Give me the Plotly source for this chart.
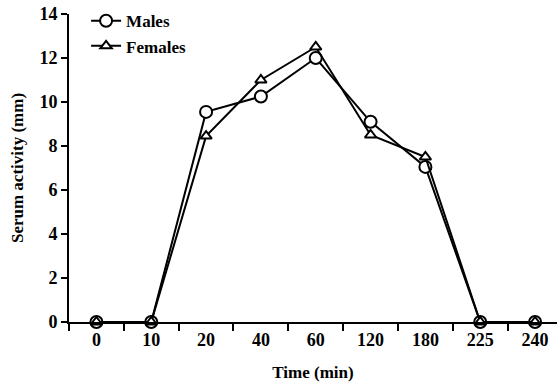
import plotly.graph_objects as go

times = ["0", "10", "20", "40", "60", "120", "180", "225", "240"]
males = [0, 0, 9.55, 10.25, 12.0, 9.1, 7.05, 0, 0]
females = [0, 0, 8.45, 11.0, 12.5, 8.5, 7.5, 0, 0]

FONT = "Liberation Serif"

fig = go.Figure()
fig.add_trace(go.Scatter(
    x=times, y=males, name="Males", mode="lines+markers",
    line=dict(color="black", width=2),
    marker=dict(symbol="circle", size=12, color="white", line=dict(color="black", width=2)),
    cliponaxis=False,
))
fig.add_trace(go.Scatter(
    x=times, y=females, name="Females", mode="lines+markers",
    line=dict(color="black", width=2),
    marker=dict(symbol="triangle-up", size=10, color="white", line=dict(color="black", width=2)),
    cliponaxis=False,
))

fig.update_layout(
    width=557, height=387,
    margin=dict(l=69, r=0, t=14, b=65),
    paper_bgcolor="white", plot_bgcolor="white",
    font=dict(family=FONT, size=17, color="black", weight="bold"),
    showlegend=True,
    legend=dict(x=0.035, y=1.035, xanchor="left", yanchor="top",
                bgcolor="rgba(0,0,0,0)", font=dict(size=17),
                tracegroupgap=0, itemwidth=30),
    xaxis=dict(
        type="category", categoryorder="array", categoryarray=times,
        range=[-0.5, 8.4], showgrid=False, zeroline=False,
        showline=True, linecolor="black", linewidth=2,
        ticks="outside", tickson="boundaries", ticklen=7, tickwidth=2, tickcolor="black",
        tickfont=dict(size=18),
        title=dict(text="Time (min)", standoff=18, font=dict(size=17)),
    ),
    yaxis=dict(
        range=[0, 14], dtick=2, showgrid=False, zeroline=False,
        showline=True, linecolor="black", linewidth=2,
        ticks="outside", ticklen=6, tickwidth=2, tickcolor="black",
        tickfont=dict(size=18),
        title=dict(text="Serum activity (mm)", standoff=11, font=dict(size=17)),
    ),
)

fig.write_html("out.html")
